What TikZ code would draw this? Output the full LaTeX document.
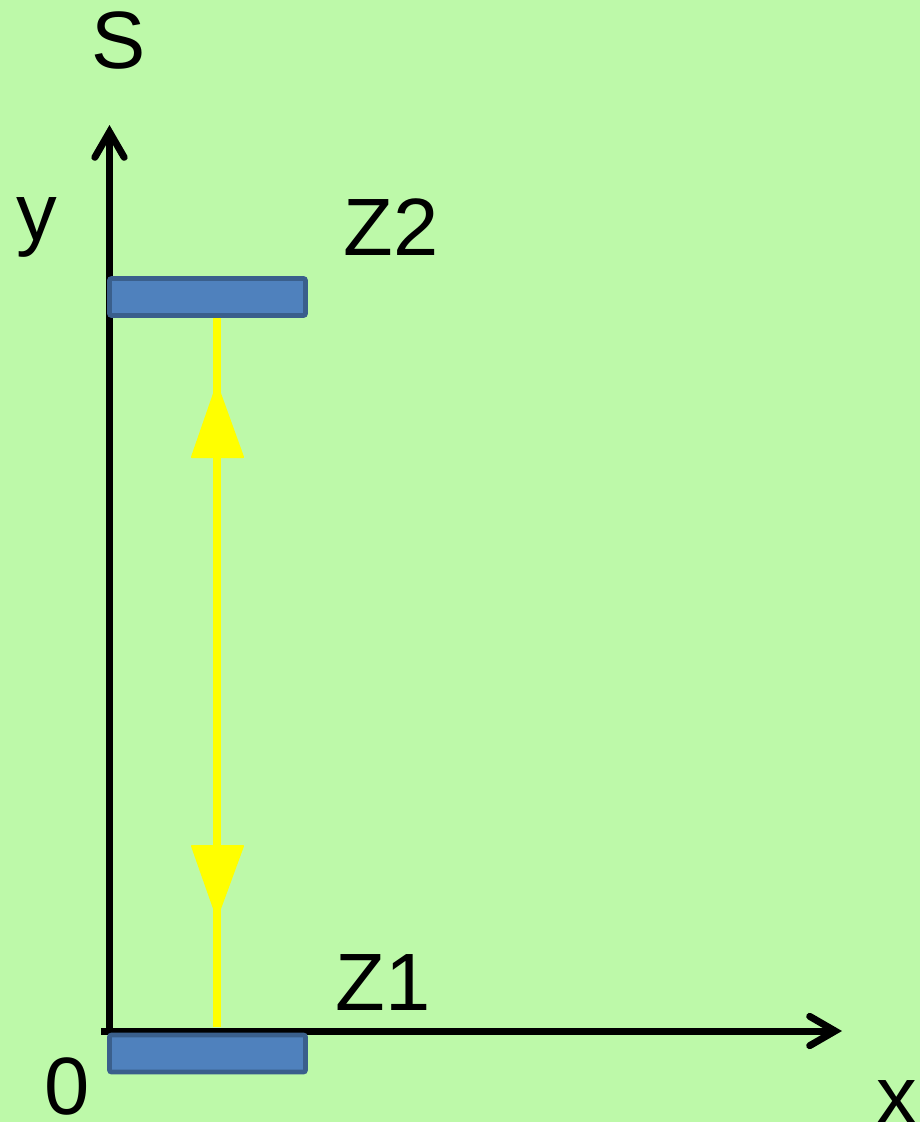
\documentclass[tikz,border=0pt]{standalone}
\usepackage{fontspec}
\setmainfont{Liberation Sans}
\usetikzlibrary{arrows.meta}
\definecolor{bg}{HTML}{BDF9A9}
\definecolor{boxfill}{HTML}{4F81BD}
\definecolor{boxdraw}{HTML}{3A5F8C}
\definecolor{yel}{HTML}{FFFF00}
\tikzset{
  axis/.style={line width=5.25pt, draw=black, -{Straight Barb[length=19pt,width=22pt,line width=5.25pt,line cap=round]}},
  plate/.style={fill=boxfill, draw=boxdraw, line width=3.5pt, rounded corners=1.5pt, minimum width=147pt, minimum height=27.75pt, inner sep=0pt, anchor=center},
  lbl/.style={font=\fontsize{61}{70}\selectfont, inner sep=0pt, anchor=base},
  tri/.style={fill=yel, draw=yel, line width=1.5pt, line join=round}
}
\begin{document}
\begin{tikzpicture}[x=0.75pt,y=-0.75pt]
\useasboundingbox[fill=bg] (0,0) rectangle (920,1122);
\coordinate (O) at (109.5,1031);
\coordinate (ytip) at (109.5,125);
\coordinate (xs) at (101,1031);
\coordinate (xtip) at (842,1031);
\draw[axis] (O) -- (ytip);
\draw[axis] (xs) -- (xtip);
\draw[yel, line width=5.5pt] (217,318) coordinate (ya) -- (217,1027) coordinate (yb);
\fill[tri] (217,385) coordinate (t1) -- (243,457) -- (192,457) -- cycle;
\fill[tri] (217,917) coordinate (t2) -- (243,846) -- (192,846) -- cycle;
\node[plate] (Z2box) at (207.5,297) {};
\node[plate] (Z1box) at (207.5,1053.5) {};
\node[lbl] (S) at (118.5,68) {S};
\node[lbl] (ylab) at (37,240) {y};
\node[lbl] (Z2) at (391,255) {Z2};
\node[lbl] (Z1) at (383,1010) {Z1};
\node[lbl] (zero) at (67.5,1114) {0};
\node[lbl] (xlab) at (896.5,1123) {x};
\end{tikzpicture}
\end{document}
